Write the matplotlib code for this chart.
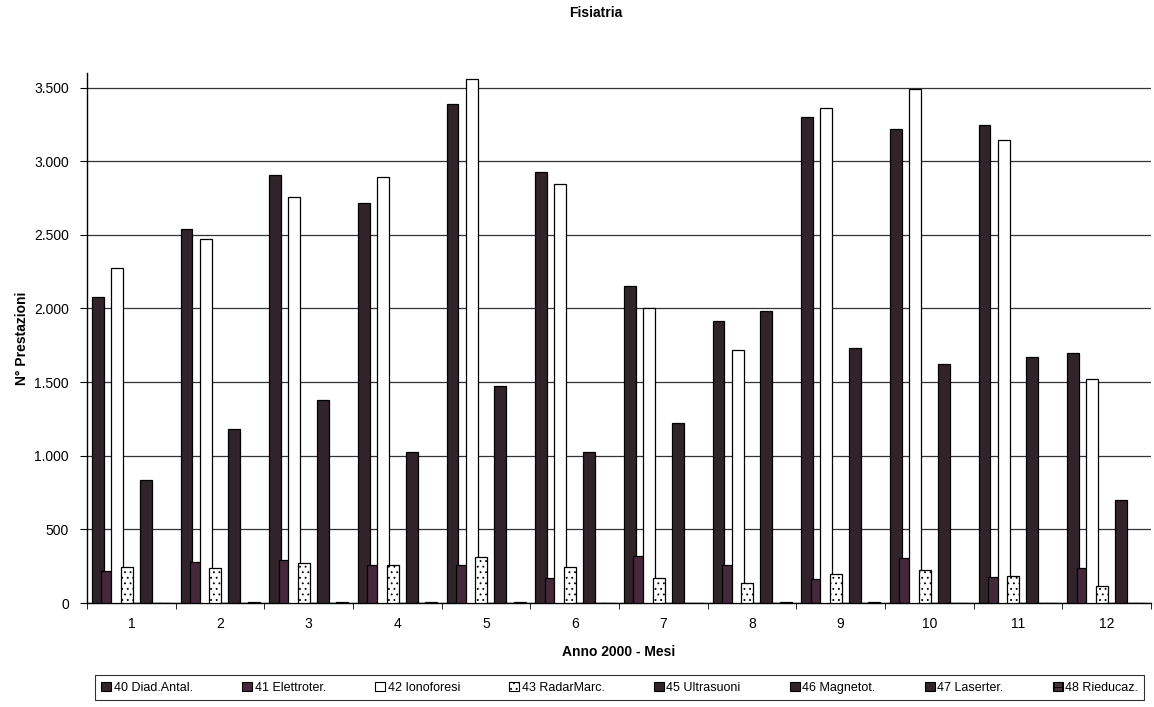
import numpy as np
import matplotlib
matplotlib.use('Agg')
import matplotlib.pyplot as plt
from matplotlib.patches import Patch
from matplotlib.ticker import FuncFormatter

plt.rcParams['font.family'] = ['Liberation Sans', 'DejaVu Sans']
plt.rcParams['hatch.linewidth'] = 0.6

mesi = ['1', '2', '3', '4', '5', '6', '7', '8', '9', '10', '11', '12']
serie = ['40 Diad.Antal.', '41 Elettroter.', '42 Ionoforesi', '43 RadarMarc.',
         '45 Ultrasuoni', '46 Magnetot.', '47 Laserter.', '48 Rieducaz.']

diad = [2080, 2540, 2908, 2717, 3390, 2927, 2150, 1917, 3301, 3220, 3245, 1695]
elettro = [218, 279, 291, 260, 260, 168, 320, 260, 165, 305, 175, 236]
iono = [2274, 2473, 2760, 2895, 3556, 2842, 2000, 1716, 3362, 3490, 3144, 1519]
radar = [243, 235, 272, 260, 316, 243, 170, 138, 194, 224, 187, 119]
ultra = [0, 0, 0, 0, 0, 0, 0, 0, 0, 0, 0, 0]
magneto = [837, 1182, 1376, 1024, 1476, 1024, 1221, 1983, 1735, 1622, 1670, 702]
laser = [0, 0, 0, 0, 0, 0, 0, 0, 0, 0, 0, 0]
rieduc = [3, 10, 5, 5, 5, 3, 3, 10, 10, 3, 2, 3]

valori = [diad, elettro, iono, radar, ultra, magneto, laser, rieduc]
colori = ['#30242a', '#45283a', 'white', 'white', '#30242a', '#30242a', '#30242a', '#45303b']
tratteggi = [None, None, None, '...', None, None, None, '++']

fig = plt.figure(figsize=(11.54, 7.07), dpi=100)
ax = fig.add_axes([0.0754, 0.147, 0.922, 0.75])

x = np.arange(len(mesi))
passo = 0.108
larg = 0.135
for i in range(len(serie)):
    ax.bar(x + (i - 3.5) * passo, valori[i], width=larg, color=colori[i],
           edgecolor='black', linewidth=0.9, hatch=tratteggi[i], zorder=3 + i)

ax.set_xlim(-0.5, 11.5)
ax.set_ylim(0, 3600)
ax.set_yticks(np.arange(0, 3501, 500))
ax.yaxis.set_major_formatter(FuncFormatter(lambda v, p: f'{int(v):,}'.replace(',', '.')))
ax.grid(axis='y', color='#333333', linewidth=0.9, zorder=0)
ax.set_axisbelow(True)

ax.set_xticks(x)
ax.set_xticklabels(mesi)
ax.set_xticks(np.arange(-0.5, 12, 1), minor=True)
ax.tick_params(axis='x', which='major', length=0, pad=10, labelsize=10)
ax.tick_params(axis='x', which='minor', length=4, direction='out')
ax.tick_params(axis='y', length=5, direction='out', labelsize=10, pad=8)

for s in ['top', 'right']:
    ax.spines[s].set_visible(False)
ax.spines['left'].set_linewidth(1.0)
ax.spines['bottom'].set_linewidth(1.0)

ax.set_ylabel('N° Prestazioni', fontsize=10, fontweight='bold', labelpad=4)
ax.set_xlabel('Anno 2000 - Mesi', fontsize=10, fontweight='bold', labelpad=10)
fig.text(0.516, 0.982, 'Fisiatria', ha='center', va='center', fontsize=10, fontweight='bold')

maniglie = [Patch(facecolor=colori[i], edgecolor='black', hatch=tratteggi[i], linewidth=0.8)
            for i in range(len(serie))]
leg = fig.legend(maniglie, serie, loc='lower left', ncol=8, mode='expand',
                 bbox_to_anchor=(0.077, 0.001, 0.92, 0.035), fontsize=9,
                 handlelength=0.8, handleheight=0.8, handletextpad=0.2,
                 fancybox=False, edgecolor='black', borderpad=0.5)
leg.get_frame().set_linewidth(0.8)

plt.savefig('out.png', dpi=100)
